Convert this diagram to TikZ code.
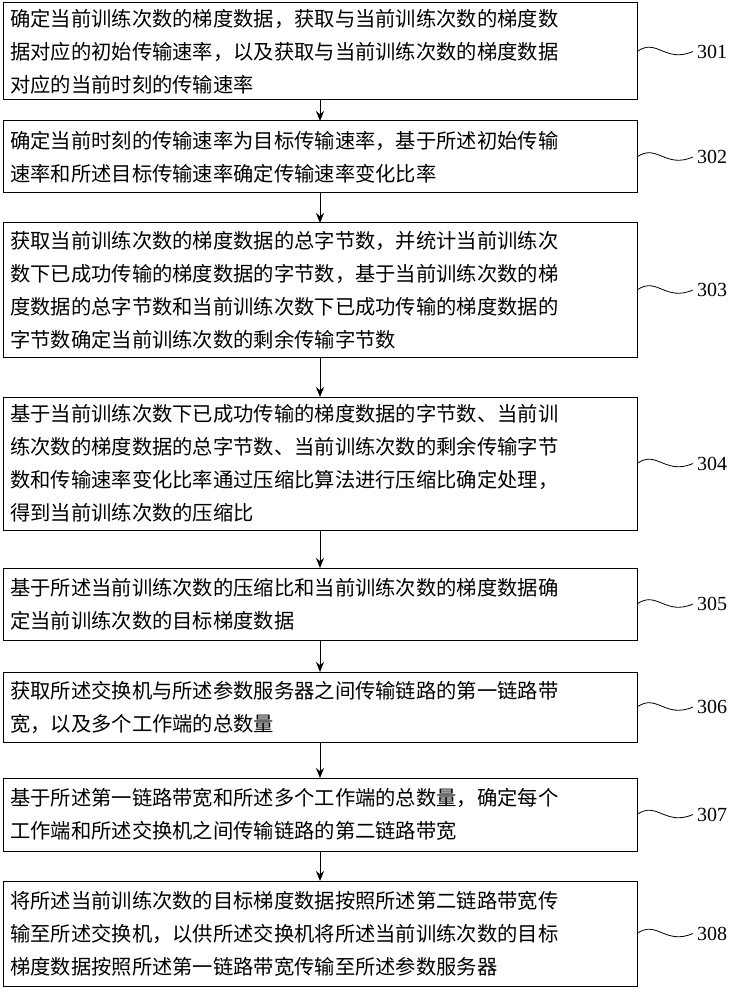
\documentclass[tikz,border=0pt]{standalone}
\usepackage{fontspec}
\setmainfont{Liberation Serif}
\newfontfamily\cjk{Noto Sans CJK SC}
\usetikzlibrary{arrows.meta}
\begin{document}
\begin{tikzpicture}[x=1pt,y=-1pt,
  txt/.style={anchor=west,align=left,font=\cjk\fontsize{20.3}{33}\selectfont,inner sep=0pt},
  lab/.style={font=\fontsize{20}{24}\selectfont,anchor=west,inner sep=0pt},
  arr/.style={-{Stealth[length=10pt,width=8pt]},line width=1pt}]
\useasboundingbox (0,0) rectangle (733,1000);
\def\B#1#2#3#4#5{%
  \draw[line width=1pt] (3,#2) rectangle (637,#3);
  \coordinate (#1) at (320,#2);
  \coordinate (#1b) at (320,#3);
  \node[txt] (#1t) at (10,{(#2+#3)/2}) {#4};
  \node[lab] (#1l) at (697,{(#2+#3)/2}) {#5};
  \draw[line width=0.8pt] (637,{(#2+#3)/2}) .. controls (657,{(#2+#3)/2-14}) and (665,{(#2+#3)/2+12}) .. (693,{(#2+#3)/2});
}
\B{a}{3}{100}{确定当前训练次数的梯度数据，获取与当前训练次数的梯度数\\据对应的初始传输速率，以及获取与当前训练次数的梯度数据\\对应的当前时刻的传输速率}{301}
\B{b}{121}{193}{确定当前时刻的传输速率为目标传输速率，基于所述初始传输\\速率和所述目标传输速率确定传输速率变化比率}{302}
\B{c}{223}{357}{获取当前训练次数的梯度数据的总字节数，并统计当前训练次\\数下已成功传输的梯度数据的字节数，基于当前训练次数的梯\\度数据的总字节数和当前训练次数下已成功传输的梯度数据的\\字节数确定当前训练次数的剩余传输字节数}{303}
\B{d}{397}{530}{基于当前训练次数下已成功传输的梯度数据的字节数、当前训\\练次数的梯度数据的总字节数、当前训练次数的剩余传输字节\\数和传输速率变化比率通过压缩比算法进行压缩比确定处理，\\得到当前训练次数的压缩比}{304}
\B{e}{568}{640}{基于所述当前训练次数的压缩比和当前训练次数的梯度数据确\\定当前训练次数的目标梯度数据}{305}
\B{f}{672}{742}{获取所述交换机与所述参数服务器之间传输链路的第一链路带\\宽，以及多个工作端的总数量}{306}
\B{g}{778}{851}{基于所述第一链路带宽和所述多个工作端的总数量，确定每个\\工作端和所述交换机之间传输链路的第二链路带宽}{307}
\B{h}{881}{986}{将所述当前训练次数的目标梯度数据按照所述第二链路带宽传\\输至所述交换机，以供所述交换机将所述当前训练次数的目标\\梯度数据按照所述第一链路带宽传输至所述参数服务器}{308}
\draw[arr] (ab) -- (b);
\draw[arr] (bb) -- (c);
\draw[arr] (cb) -- (d);
\draw[arr] (db) -- (e);
\draw[arr] (eb) -- (f);
\draw[arr] (fb) -- (g);
\draw[arr] (gb) -- (h);
\end{tikzpicture}
\end{document}
